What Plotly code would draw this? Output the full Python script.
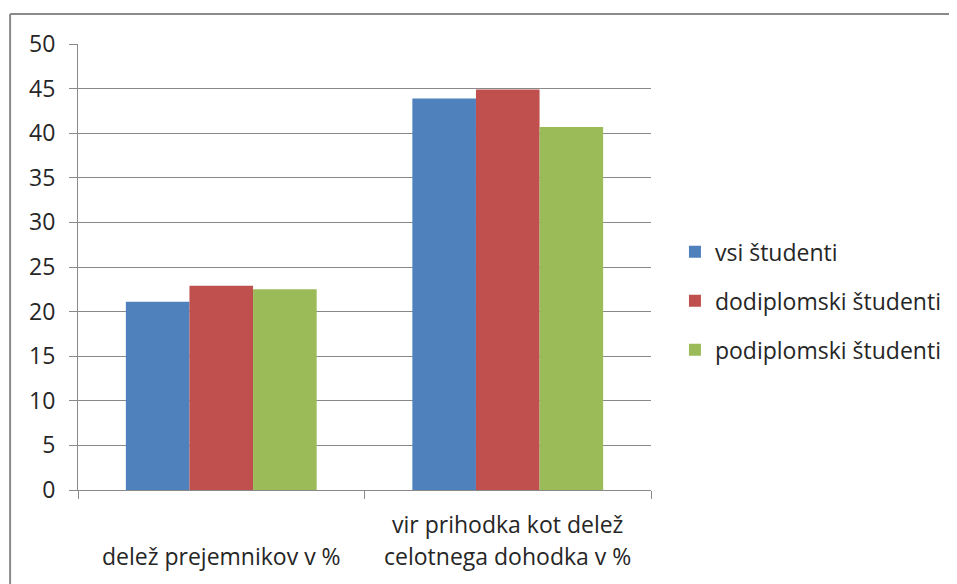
import plotly.graph_objects as go

# data
CATEGORIES = ["delež prejemnikov v %", "vir prihodka kot delež<br>celotnega dohodka v %"]
SERIES = ["vsi študenti", "dodiplomski študenti", "podiplomski študenti"]
VSI = [21.1, 43.9]
DODIPLOMSKI = [22.9, 44.9]
PODIPLOMSKI = [22.5, 40.7]
Y_TICKS = [0, 5, 10, 15, 20, 25, 30, 35, 40, 45, 50]

COLORS = ["#4F81BD", "#C0504D", "#9BBB59"]
GRID = "#898989"
TEXT = "#262626"
FONT = "Open Sans"
FS = 23

fig = go.Figure()
for i, (name, vals) in enumerate(zip(SERIES, [VSI, DODIPLOMSKI, PODIPLOMSKI])):
    fig.add_trace(go.Bar(
        x=CATEGORIES, y=vals, name=name, legendgroup=name,
        marker={"color": COLORS[i], "line": {"width": 0}},
    ))

# category labels, bottom aligned like Excel does it
for cat in CATEGORIES:
    lines = cat.split("<br>")
    for j, line in enumerate(reversed(lines)):
        fig.add_annotation(
            x=cat, xref="x", y=-0.148, yref="paper", yshift=32 * j,
            text=line, showarrow=False, yanchor="middle",
            font={"family": FONT, "size": FS, "color": TEXT},
        )

# outer chart border: only top and left edges are inside the picture
border = {"color": "#8a8a8a", "width": 2}
fig.add_shape(type="line", xref="paper", yref="paper",
              x0=-0.1185, x1=1.8, y0=1.0673, y1=1.0673, line=border)
fig.add_shape(type="line", xref="paper", yref="paper",
              x0=-0.1185, x1=-0.1185, y0=1.0673, y1=-0.5, line=border)

# page has an 8px body margin: shrink the figure by 8 so it fits the window
fig.update_layout(
    width=949, height=576,
    margin={"l": 70, "r": 305, "t": 36, "b": 94},
    paper_bgcolor="white", plot_bgcolor="white",
    font={"family": FONT, "size": FS, "color": TEXT},
    barmode="group", bargap=0.334, bargroupgap=0,
    showlegend=True,
    legend={"x": 1.04, "y": 0.424, "xanchor": "left", "yanchor": "middle",
            "tracegroupgap": 16, "traceorder": "grouped",
            "font": {"family": FONT, "size": FS, "color": TEXT}},
)
fig.update_xaxes(
    showticklabels=False, showgrid=False,
    showline=True, linecolor=GRID, linewidth=1,
    ticks="outside", ticklen=8, tickcolor=GRID, tickson="boundaries",
)
fig.update_yaxes(
    range=[0, 50], tickvals=Y_TICKS,
    showgrid=True, gridcolor=GRID, gridwidth=1,
    showline=True, linecolor=GRID, linewidth=1,
    ticks="outside", ticklen=8, tickcolor=GRID,
    ticklabelstandoff=9, zeroline=False,
)

# no scrollbar from the body margin
fig.write_html("out.html", config={"displayModeBar": False},
               post_script="document.body.style.overflow = 'hidden';")
